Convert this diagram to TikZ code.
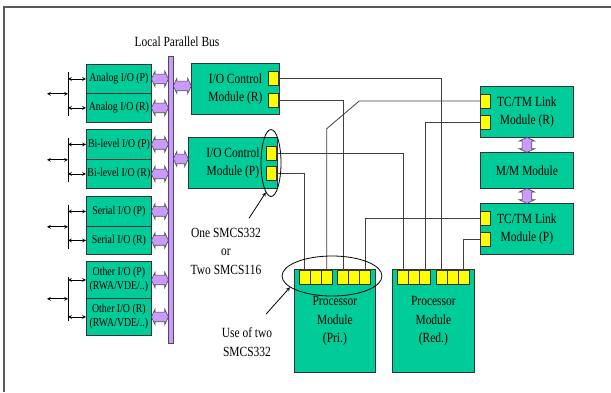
\documentclass[tikz,border=0pt]{standalone}
\usepackage{fontspec}
\setmainfont{Liberation Serif}[FakeStretch=0.82]
\usepackage{tikz}
\usetikzlibrary{shapes.arrows, shapes.geometric, positioning, calc}
\newcommand{\fontgrande}{\fontsize{14}{18.5}\selectfont}
\newcommand{\fontpeq}{\fontsize{12}{14}\selectfont}

\begin{document}
\begin{tikzpicture}[x=1pt, y=-1pt,
  modulo/.style={draw=black!80, line width=0.8pt, fill=modverde, inner sep=0pt, anchor=north west, align=center},
  porta/.style={draw=black!80, line width=0.6pt, fill=portamarelo, minimum width=10, minimum height=14, inner sep=0pt},
  barra/.style={double arrow, draw=black!70, line width=0.6pt, fill=barlilas, minimum width=0, double arrow head extend=3, double arrow tip angle=130, minimum height=17, inner xsep=0pt, inner ysep=4.5pt},
  linha/.style={draw=black!75, line width=0.8pt},
  seta/.style={<->, >=stealth, line width=0.7pt, black}]
% --- CORES ---
\definecolor{modverde}{HTML}{00CC99}
\definecolor{barlilas}{HTML}{CC99FF}
\definecolor{portamarelo}{HTML}{FFFF00}

\useasboundingbox (0,0) rectangle (611,392);
\draw[black!65, line width=1.2pt] (4,392) -- (4,7) -- (611,7);

% LAYER 1: Barramento e modulos de E/S
\node[font=\fontgrande] (titbus) at (177,42) {Local Parallel Bus};
\node[draw=black!70, line width=0.6pt, fill=barlilas, minimum width=5, minimum height=287, inner sep=0pt, anchor=north west] (bus) at (168,56) {};

\node[modulo, font=\fontpeq, minimum width=65, minimum height=29] (anP) at (86,64) {Analog I/O (P)};
\node[modulo, font=\fontpeq, minimum width=65, minimum height=29] (anR) at (86,93) {Analog I/O (R)};
\node[modulo, font=\fontpeq, minimum width=65, minimum height=30] (biP) at (86,129) {Bi-level I/O (P)};
\node[modulo, font=\fontpeq, minimum width=65, minimum height=29] (biR) at (86,159) {Bi-level I/O (R)};
\node[modulo, font=\fontpeq, minimum width=65, minimum height=30] (seP) at (86,196) {Serial I/O (P)};
\node[modulo, font=\fontpeq, minimum width=65, minimum height=28] (seR) at (86,226) {Serial I/O (R)};
\node[modulo, font=\fontpeq, minimum width=65, minimum height=37] (otP) at (86,261) {Other I/O (P)\\(RWA/VDE/..)};
\node[modulo, font=\fontpeq, minimum width=65, minimum height=37] (otR) at (86,298) {Other I/O (R)\\(RWA/VDE/..)};

\foreach \p/\r in {anP/anR, biP/biR, seP/seR, otP/otR} {
  \coordinate (v\p) at ($(\p.south west)+(-18,0)$);
  \draw[line width=0.7pt] ($(v\p)+(0,-22)$) -- ($(v\p)+(0,22)$);
  \draw[seta] (\p.west -| v\p) -- (\p.west);
  \draw[seta] (\r.west -| v\p) -- (\r.west);
  \draw[seta] ($(v\p)+(-21,0)$) -- (v\p);
}

\foreach \m in {anP, anR, biP, biR, seP, seR, otP, otR}
  \path (\m.east) -- (\m.east -| bus.west) node[barra, midway] {};

% LAYER 2: Modulos de controle de E/S
\node[modulo, font=\fontgrande, minimum width=88, minimum height=51] (iocR) at (191,63) {I/O Control\\Module (R)};
\node[modulo, font=\fontgrande, minimum width=89, minimum height=51] (iocP) at (188,137) {I/O Control\\Module (P)};
\node[porta] (iocRa) at (273,78.5) {};
\node[porta] (iocRb) at (273,100.5) {};
\node[porta] (iocPa) at (271,153) {};
\node[porta] (iocPb) at (271,173) {};
\path (bus.east |- iocR.west) -- (iocR.west) node[barra, midway, minimum height=18, yshift=3] {};
\path (bus.east |- iocP.west) -- (iocP.west) node[barra, midway, minimum height=15, yshift=4] {};

% LAYER 3: Links TC/TM e M/M
\node[modulo, font=\fontgrande, minimum width=93, minimum height=51] (tcR) at (480,86) {TC/TM Link\\Module (R)};
\node[modulo, font=\fontgrande, minimum width=93, minimum height=36] (mm) at (480,152) {M/M Module};
\node[modulo, font=\fontgrande, minimum width=93, minimum height=51] (tcP) at (480,203) {TC/TM Link\\Module (P)};
\node[porta] (tcRa) at (485.5,101) {};
\node[porta] (tcRb) at (485.5,122) {};
\node[porta] (tcPa) at (485.5,218) {};
\node[porta] (tcPb) at (485.5,239.5) {};
\path (tcR.south) -- (mm.north) node[barra, midway, shape border rotate=90, minimum height=15, inner xsep=4.5pt, inner ysep=0pt] {};
\path (mm.south) -- (tcP.north) node[barra, midway, shape border rotate=90, minimum height=15, inner xsep=4.5pt, inner ysep=0pt] {};

% LAYER 4: Modulos processadores
\node[modulo, font=\fontgrande, minimum width=81, minimum height=103] (pri) at (294,269) {Processor\\Module\\(Pri.)};
\node[modulo, font=\fontgrande, minimum width=82, minimum height=103] (red) at (392,269) {Processor\\Module\\(Red.)};
\foreach \i/\x in {1/304.5, 2/315.6, 3/326.7, 4/343.2, 5/354.1, 6/365}
  \node[porta, minimum width=11] (pri\i) at (\x,277) {};
\foreach \i/\x in {1/403.2, 2/414.2, 3/425.2, 4/441.5, 5/452.6, 6/463.7}
  \node[porta, minimum width=11] (red\i) at (\x,277) {};

% LAYER 5: Ligacoes
\draw[linha] (iocRa.east) -| (red4.north);
\draw[linha] (iocRb.east) -| (pri4.north);
\draw[linha] (tcRa.west) -- ($(tcRa.west)+(-121,0)$) -- ($(pri3.north)+(0,-141)$) -- (pri3.north);
\draw[linha] (tcRb.west) -| (red3.north);
\draw[linha] (iocPa.east) -| (red1.north);
\draw[linha] (iocPb.east) -| (pri1.north);
\draw[linha] (tcPa.west) -| (pri6.north);
\draw[linha] (tcPb.west) -| (red6.north);

% LAYER 6: Anotacoes
\node[draw=black, line width=0.8pt, ellipse, minimum width=20, minimum height=67, inner sep=0pt] (elIO) at (271,163) {};
\node[draw=black, line width=0.8pt, ellipse, minimum width=100, minimum height=40, inner sep=0pt] (elPr) at (332,276) {};
\node[font=\fontgrande, align=center] (txtOne) at (226,251) {One SMCS332\\or\\Two SMCS116};
\node[font=\fontgrande, align=center] (txtUse) at (247,342) {Use of two\\SMCS332};
\draw[->, >=stealth, line width=0.8pt] ($(txtOne.north)+(23,-6)$) -- (elIO.-100);
\draw[->, >=stealth, line width=0.8pt] ($(txtUse.north)+(19,-10)$) -- (elPr.-165);
\end{tikzpicture}
\end{document}
